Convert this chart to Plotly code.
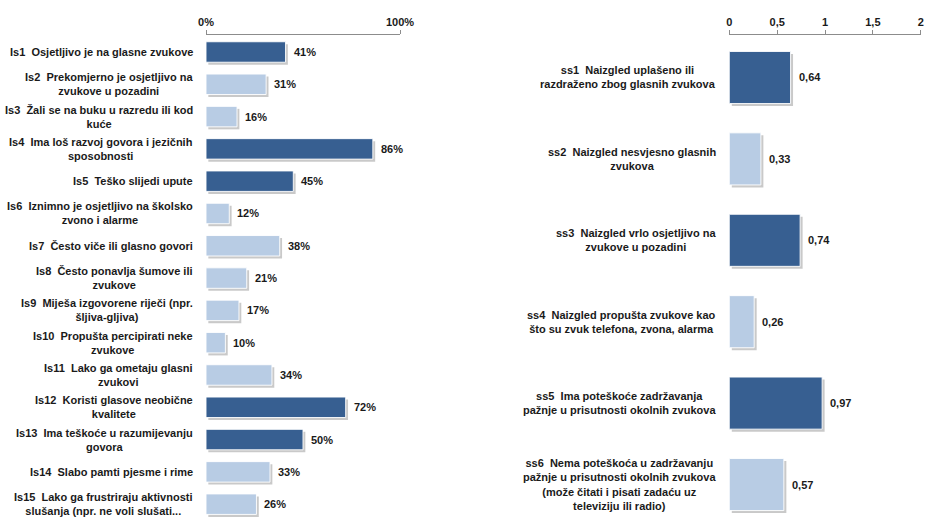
import plotly.graph_objects as go

# ---------------- data ----------------
left_codes = ["Is1", "Is2", "Is3", "Is4", "Is5", "Is6", "Is7", "Is8", "Is9", "Is10",
              "Is11", "Is12", "Is13", "Is14", "Is15"]
left_labels = [
    "Is1  Osjetljivo je na glasne zvukove",
    "Is2  Prekomjerno je osjetljivo na<br>zvukove u pozadini",
    "Is3  Žali se na buku u razredu ili kod<br>kuće",
    "Is4  Ima loš razvoj govora i jezičnih<br>sposobnosti",
    "Is5  Teško slijedi upute",
    "Is6  Iznimno je osjetljivo na školsko<br>zvono i alarme",
    "Is7  Često viče ili glasno govori",
    "Is8  Često ponavlja šumove ili<br>zvukove",
    "Is9  Miješa izgovorene riječi (npr.<br>šljiva-gljiva)",
    "Is10  Propušta percipirati neke<br>zvukove",
    "Is11  Lako ga ometaju glasni<br>zvukovi",
    "Is12  Koristi glasove neobične<br>kvalitete",
    "Is13  Ima teškoće u razumijevanju<br>govora",
    "Is14  Slabo pamti pjesme i rime",
    "Is15  Lako ga frustriraju aktivnosti<br>slušanja (npr. ne voli slušati...",
]
left_values = [41, 31, 16, 86, 45, 12, 38, 21, 17, 10, 34, 72, 50, 33, 26]
left_highlight = [1, 0, 0, 1, 1, 0, 0, 0, 0, 0, 0, 1, 1, 0, 0]
left_tickvals = [0, 100]
left_ticktext = ["0%", "100%"]

right_codes = ["ss1", "ss2", "ss3", "ss4", "ss5", "ss6"]
right_labels = [
    "ss1  Naizgled uplašeno ili<br>razdraženo zbog glasnih zvukova",
    "ss2  Naizgled nesvjesno glasnih<br>zvukova",
    "ss3  Naizgled vrlo osjetljivo na<br>zvukove u pozadini",
    "ss4  Naizgled propušta zvukove kao<br>što su zvuk telefona, zvona, alarma",
    "ss5  Ima poteškoće zadržavanja<br>pažnje u prisutnosti okolnih zvukova",
    "ss6  Nema poteškoća u zadržavanju<br>pažnje u prisutnosti okolnih zvukova<br>(može čitati i pisati zadaću uz<br>televiziju ili radio)",
]
right_values = [0.64, 0.33, 0.74, 0.26, 0.97, 0.57]
right_highlight = [1, 0, 1, 0, 1, 0]
right_tickvals = [0, 0.5, 1, 1.5, 2]
right_ticktext = ["0", "0,5", "1", "1,5", "2"]

# ---------------- style ----------------
DARK = "#375F91"
LIGHT = "#B8CCE4"
SHADOW = "rgba(120,120,120,0.4)"
TXT = "#1a1a1a"
AX = "#8c8c8c"
FONT = "Liberation Sans Narrow, Arial Narrow, Liberation Sans, Arial, sans-serif"
FS = 11

fig = go.Figure()


def add_panel(codes, labels, values, highlight, xa, ya, dx, bw, slot_px, fmt):
    colors = [DARK if h else LIGHT for h in highlight]
    shift = 2.5 / slot_px
    # soft drop shadow
    fig.add_trace(go.Bar(
        y=codes, x=values, base=dx, orientation="h",
        width=bw, offset=-bw / 2 + shift,
        marker=dict(color=SHADOW, line=dict(width=0)),
        xaxis=xa, yaxis=ya, hoverinfo="skip", showlegend=False,
    ))
    # bars
    fig.add_trace(go.Bar(
        y=codes, x=values, orientation="h",
        width=bw, offset=-bw / 2,
        marker=dict(color=colors, line=dict(color="rgba(255,255,255,0.9)", width=1)),
        xaxis=xa, yaxis=ya, showlegend=False,
    ))
    axn = "" if xa == "x" else xa[1:]
    for c, lab, v in zip(codes, labels, values):
        fig.add_annotation(
            x=0, xref=f"x{axn} domain", y=c, yref=ya,
            text=lab, showarrow=False, xanchor="right", yanchor="middle",
            align="center", xshift=-11,
            font=dict(family=FONT, size=FS, color=TXT, weight="bold"),
        )
        fig.add_annotation(
            x=v, xref=xa, y=c, yref=ya,
            text=fmt(v), showarrow=False, xanchor="left", yanchor="middle",
            xshift=6,
            font=dict(family=FONT, size=FS, color=TXT, weight="bold"),
        )


add_panel(left_codes, left_labels, left_values, left_highlight, "x", "y",
          1.2, 0.634, 32.2, lambda v: f"{v}%")
add_panel(right_codes, right_labels, right_values, right_highlight, "x2", "y2",
          0.026, 0.64, 81.4, lambda v: f"{v:.2f}".replace(".", ","))

ydom = [0, (520 - 35) / 520]
axis_common = dict(
    side="top", ticks="outside", ticklen=4, tickcolor=AX, tickwidth=1,
    showline=True, linecolor=AX, linewidth=1, showgrid=False, zeroline=False,
    tickfont=dict(family=FONT, size=FS, color=TXT, weight="bold"),
    fixedrange=True, automargin=False,
)

fig.update_layout(
    width=926, height=520, autosize=False,
    margin=dict(l=0, r=0, t=0, b=0, pad=0),
    paper_bgcolor="white", plot_bgcolor="white",
    barmode="overlay",
    showlegend=False,
    xaxis=dict(domain=[206 / 926, 400 / 926], range=[0, 100],
               tickvals=left_tickvals, ticktext=left_ticktext,
               anchor="y", **axis_common),
    yaxis=dict(domain=ydom, range=[14.49, -0.526], showticklabels=False,
               showgrid=False, zeroline=False, showline=False, ticks="",
               anchor="x", fixedrange=True, automargin=False),
    xaxis2=dict(domain=[729.3 / 926, 920.7 / 926], range=[0, 2],
                tickvals=right_tickvals, ticktext=right_ticktext,
                anchor="y2", **axis_common),
    yaxis2=dict(domain=ydom, range=[5.436, -0.522], showticklabels=False,
                showgrid=False, zeroline=False, showline=False, ticks="",
                anchor="x2", fixedrange=True, automargin=False),
)

fig.write_html(
    "out.html",
    config={"displayModeBar": False},
    post_script="document.body.style.margin='0';document.body.style.overflow='hidden';",
)
